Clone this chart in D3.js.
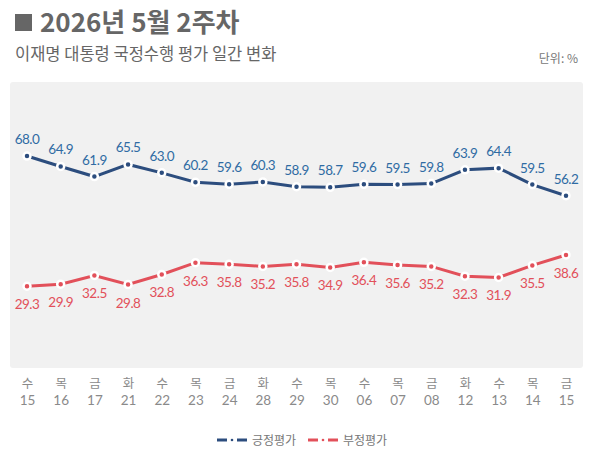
<!DOCTYPE html>
<html>
<head>
<meta charset="utf-8">
<script src="https://cdn.jsdelivr.net/npm/d3@7"></script>
<style>
  body { margin: 0; background: #fff; }
  text { font-family: "Noto Sans CJK KR", "Noto Sans", sans-serif; }
  .num { font-family: "Lato", "Noto Sans", sans-serif; }
</style>
</head>
<body>
<div id="chart"></div>
<script>
var weekdays = ["수","목","금","화","수","목","금","화","수","목","수","목","금","화","수","목","금"];
var dates = ["15","16","17","21","22","23","24","28","29","30","06","07","08","12","13","14","15"];
var positive = [68.0,64.9,61.9,65.5,63.0,60.2,59.6,60.3,58.9,58.7,59.6,59.5,59.8,63.9,64.4,59.5,56.2];
var negative = [29.3,29.9,32.5,29.8,32.8,36.3,35.8,35.2,35.8,34.9,36.4,35.6,35.2,32.3,31.9,35.5,38.6];
var seriesNames = ["긍정평가","부정평가"];

var width = 600, height = 464;
var blue = "#2c4d7e", blueText = "#2f6ba3", red = "#e2505a", grey = "#666";

var svg = d3.select("#chart").append("svg")
    .attr("width", width)
    .attr("height", height);

// title block
svg.append("rect")
    .attr("x", 15).attr("y", 14)
    .attr("width", 17).attr("height", 17)
    .style("fill", grey);
svg.append("text")
    .attr("x", 40).attr("y", 32)
    .style("fill", grey)
    .style("font-size", 26)
    .style("font-weight", "bold")
    .text("2026년 5월 2주차");
svg.append("text")
    .attr("x", 15).attr("y", 60)
    .style("fill", grey)
    .style("font-size", 16.5)
    .text("이재명 대통령 국정수행 평가 일간 변화");
svg.append("text")
    .attr("x", 578).attr("y", 63)
    .attr("text-anchor", "end")
    .style("fill", "#777")
    .style("font-size", 12)
    .text("단위: %");

// plot area
var plot = {left: 10, right: 583, top: 82, bottom: 368};
svg.append("rect")
    .attr("x", plot.left).attr("y", plot.top)
    .attr("width", plot.right - plot.left)
    .attr("height", plot.bottom - plot.top)
    .attr("rx", 3)
    .style("fill", "#f1f1f1");

var x = d3.scalePoint()
    .domain(d3.range(dates.length))
    .range([27, 566]);
var y = d3.scaleLinear()
    .domain([5, 90])
    .range([plot.bottom, plot.top]);

// x axis, two rows of labels
var xAxis = svg.append("g")
    .attr("transform", "translate(0," + plot.bottom + ")")
    .call(d3.axisBottom(x).tickSize(0).tickPadding(0).tickFormat(""));
xAxis.select(".domain").remove();
xAxis.selectAll(".tick").each(function(i) {
  var t = d3.select(this);
  t.append("text")
      .attr("y", 20)
      .attr("text-anchor", "middle")
      .style("fill", "#8a8a8a")
      .style("font-size", 12.5)
      .text(weekdays[i]);
  t.append("text")
      .attr("class", "num")
      .attr("y", 37)
      .attr("text-anchor", "middle")
      .style("fill", "#8a8a8a")
      .style("font-size", 13.5)
      .text(dates[i]);
});

var line = d3.line()
    .x(function(d, i) { return x(i); })
    .y(function(d) { return y(d); });

function drawSeries(values, color, labelColor, above) {
  svg.append("path")
      .datum(values)
      .attr("d", line)
      .style("fill", "none")
      .style("stroke", color)
      .style("stroke-width", 3);
  svg.selectAll(null)
      .data(values)
      .enter().append("circle")
      .attr("cx", function(d, i) { return x(i); })
      .attr("cy", function(d) { return y(d); })
      .attr("r", 3.5)
      .style("fill", color)
      .style("stroke", "#fff")
      .style("stroke-width", 2.5);
  svg.selectAll(null)
      .data(values)
      .enter().append("text")
      .attr("class", "num")
      .attr("x", function(d, i) { return x(i); })
      .attr("y", function(d) { return y(d) + (above ? -12 : 23); })
      .attr("text-anchor", "middle")
      .style("fill", labelColor)
      .style("font-size", 13.5)
      .style("letter-spacing", "-0.5px")
      .text(function(d) { return d.toFixed(1); });
}

drawSeries(positive, blue, blueText, true);
drawSeries(negative, red, red, false);

// legend
var legend = svg.append("g").attr("transform", "translate(217,440)");
[[blue, seriesNames[0], 0], [red, seriesNames[1], 91]].forEach(function(s) {
  var g = legend.append("g").attr("transform", "translate(" + s[2] + ",0)");
  g.append("line").attr("x1", 0).attr("x2", 10).attr("y1", 0).attr("y2", 0)
      .style("stroke", s[0]).style("stroke-width", 3);
  g.append("circle").attr("cx", 15).attr("cy", 0).attr("r", 1.3).style("fill", s[0]);
  g.append("line").attr("x1", 20).attr("x2", 30).attr("y1", 0).attr("y2", 0)
      .style("stroke", s[0]).style("stroke-width", 3);
  g.append("text")
      .attr("x", 35).attr("y", 4.5)
      .style("fill", "#777")
      .style("font-size", 12)
      .text(s[1]);
});
</script>
</body>
</html>
